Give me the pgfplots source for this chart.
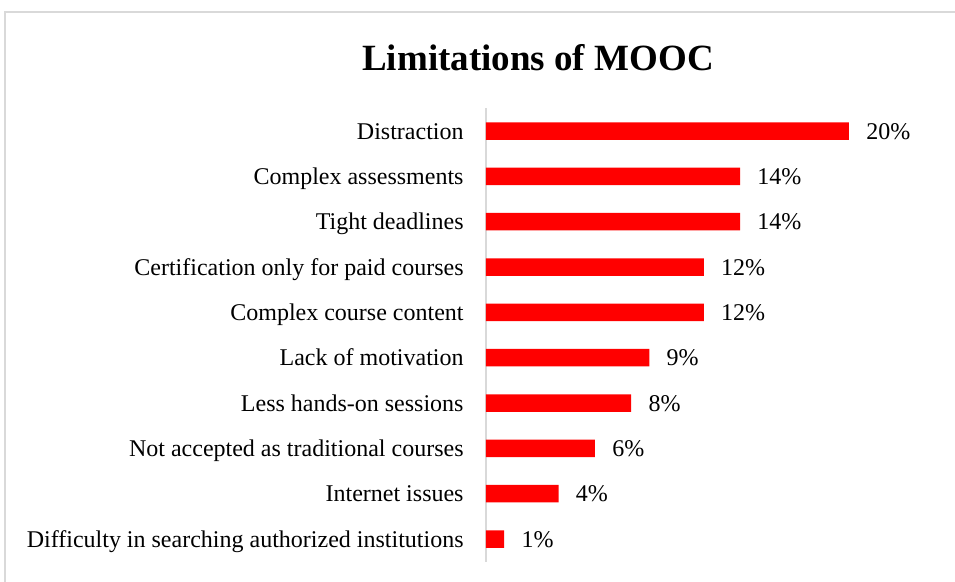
\documentclass[border=0pt]{standalone}
\usepackage{pgfplots}
\pgfplotsset{compat=1.18}
\usepackage{pgfplotstable}
\usepackage{fontspec}
\setmainfont{Liberation Serif}
\definecolor{barred}{HTML}{FF0000}
\definecolor{framegray}{HTML}{D9D9D9}

% share of respondents (%), bottom to top
\pgfplotstableread{
idx value
0 1
1 4
2 6
3 8
4 9
5 12
6 12
7 14
8 14
9 20
}\limitdata

\begin{document}
\begin{tikzpicture}
\useasboundingbox (0,0) rectangle (477.5pt,291pt);
\draw[framegray, line width=0.6pt] (2.5pt,0) -- (2.5pt,285pt) -- (477.5pt,285pt);
\node[font=\fontsize{18.5}{20}\selectfont\bfseries] at (269pt,262pt) {Limitations of MOOC};
\begin{axis}[
    at={(243pt,10.15pt)}, anchor=south west,
    scale only axis, width=181.5pt, height=226.65pt,
    xbar, bar width=0.386, bar shift=0pt,
    xmin=0, xmax=20, ymin=-0.5, ymax=9.5,
    axis x line=none, axis y line*=left,
    y axis line style={framegray, line width=0.8pt},
    ytick={0,...,9}, major tick length=0pt,
    yticklabels={Difficulty in searching authorized institutions, Internet issues, Not accepted as traditional courses, Less hands-on sessions, Lack of motivation, Complex course content, Certification only for paid courses, Tight deadlines, Complex assessments, Distraction},
    y tick label style={font=\fontsize{12}{14}\selectfont, inner sep=0pt, anchor=base east, xshift=-11pt, yshift=-4pt},
    /pgf/number format/assume math mode=true,
    nodes near coords={\pgfmathprintnumber{\pgfplotspointmeta}\%},
    nodes near coords style={font=\fontsize{12}{14}\selectfont, anchor=base west, inner sep=0pt, xshift=8.5pt, yshift=-4pt},
    clip=false,
]
\addplot[fill=barred, draw=none] table[x=value, y=idx] {\limitdata};
\end{axis}
\end{tikzpicture}
\end{document}
